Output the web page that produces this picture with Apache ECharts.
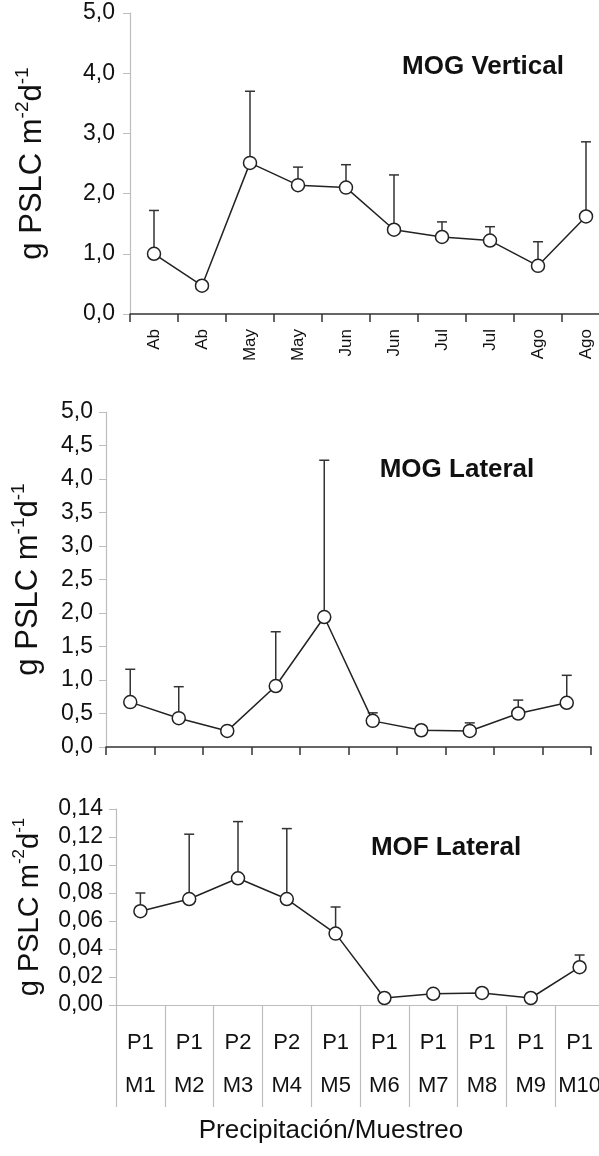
<!DOCTYPE html>
<html><head><meta charset="utf-8">
<script src="https://cdn.jsdelivr.net/npm/echarts@6/dist/echarts.min.js"></script>
<style>html,body{margin:0;padding:0;background:#fff}#c{width:599px;height:1156px}</style>
</head><body><div id="c"></div>
<script>
const FONT = 'Liberation Sans, Arial, sans-serif';
const monthCats = ['Ab','Ab','May','May','Jun','Jun','Jul','Jul','Ago','Ago'];
const precip = ['P1','P1','P2','P2','P1','P1','P1','P1','P1','P1'];
const muestreo = ['M1','M2','M3','M4','M5','M6','M7','M8','M9','M10'];
const mogV = [1.00,0.47,2.51,2.14,2.10,1.40,1.28,1.22,0.80,1.62];
const mogVTop = [1.72,null,3.70,2.44,2.48,2.31,1.53,1.45,1.20,2.86];
const mogL = [0.67,0.43,0.24,0.91,1.94,0.39,0.25,0.24,0.50,0.66];
const mogLTop = [1.16,0.90,0.28,1.72,4.28,0.51,null,0.36,0.70,1.07];
const mofL = [0.067,0.0757,0.0905,0.0757,0.051,0.005,0.008,0.0086,0.005,0.027];
const mofLTop = [0.080,0.122,0.131,0.126,0.070,null,null,null,null,0.0357];
const titles = ['MOG Vertical','MOG Lateral','MOF Lateral'];
const xTitle = 'Precipitación/Muestreo';

const chart = echarts.init(document.getElementById('c'));
const comma = d => v => v.toFixed(d).replace('.', ',');
const lightAxis = {show:true, lineStyle:{color:'#bdbdbd', width:1.2}};
const darkAxis = {show:true, lineStyle:{color:'#333', width:1.5}};
function yName(sup1, size){
  return {
    name: '{a|g PSLC m}{s|' + sup1 + '}{a|d}{s|-1}',
    nameLocation:'middle', nameRotate:90,
    nameTextStyle:{rich:{a:{fontSize:size, fontFamily:FONT, color:'#111', lineHeight:size+4, verticalAlign:'bottom'},
                         s:{fontSize:Math.round(size*0.6), fontFamily:FONT, color:'#111', verticalAlign:'top', lineHeight:size+4}}}
  };
}
function errData(vals, tops){
  const out = [];
  vals.forEach((v,i)=>{ if(tops[i]!=null) out.push([i, v, tops[i]]); });
  return out;
}
function errSeries(idx, vals, tops){
  return {
    type:'custom', xAxisIndex:idx, yAxisIndex:idx, z:1,
    data: errData(vals, tops), encode:{x:0, y:[1,2]},
    renderItem(params, api){
      const p0 = api.coord([api.value(0), api.value(1)]);
      const p1 = api.coord([api.value(0), api.value(2)]);
      const st = {stroke:'#333', lineWidth:1.5};
      return {type:'group', children:[
        {type:'line', shape:{x1:p0[0], y1:p0[1], x2:p1[0], y2:p1[1]}, style:st},
        {type:'line', shape:{x1:p1[0]-5, y1:p1[1], x2:p1[0]+5, y2:p1[1]}, style:st}
      ]};
    }
  };
}
function lineSeries(idx, vals){
  return {
    type:'line', xAxisIndex:idx, yAxisIndex:idx, z:3, data: vals,
    symbol:'circle', symbolSize:13,
    lineStyle:{color:'#222', width:1.5},
    itemStyle:{color:'#fff', borderColor:'#222', borderWidth:1.5}
  };
}
const tickLbl = {fontSize:23, fontFamily:FONT, color:'#111'};

chart.setOption({
  animation:false,
  backgroundColor:'#fff',
  grid:[
    {left:130, top:13, width:480, height:301, outerBoundsMode:'none'},
    {left:106, top:412, width:485, height:335, outerBoundsMode:'none'},
    {left:116, top:809, width:488, height:196, outerBoundsMode:'none'}
  ],
  xAxis:[
    {type:'category', gridIndex:0, data:monthCats, boundaryGap:true,
     axisLine:darkAxis, axisTick:{show:true, length:8, lineStyle:{color:'#333', width:1.5}},
     axisLabel:{rotate:90, fontSize:17, fontFamily:FONT, color:'#111', margin:15}, splitLine:{show:false}},
    {type:'category', gridIndex:1, data:muestreo, boundaryGap:true,
     axisLine:darkAxis, axisTick:{show:true, length:8, lineStyle:{color:'#333', width:1.5}},
     axisLabel:{show:false}, splitLine:{show:false}},
    {type:'category', gridIndex:2, data:muestreo.map((m,i)=>precip[i]+'\n'+m), boundaryGap:true,
     axisLine:lightAxis, axisTick:{show:true, length:102, lineStyle:{color:'#bdbdbd', width:1.2}},
     axisLabel:{fontSize:22, fontFamily:FONT, color:'#111', lineHeight:43, margin:16, interval:0}, splitLine:{show:false}}
  ],
  yAxis:[
    Object.assign({type:'value', gridIndex:0, min:0, max:5, interval:1,
     axisLine:lightAxis, axisTick:{show:true, length:7, lineStyle:{color:'#bdbdbd'}},
     axisLabel:Object.assign({formatter:comma(1), margin:15}, tickLbl), splitLine:{show:false}, nameGap:82}, yName('-2', 31)),
    Object.assign({type:'value', gridIndex:1, min:0, max:5, interval:0.5,
     axisLine:lightAxis, axisTick:{show:true, length:7, lineStyle:{color:'#bdbdbd'}},
     axisLabel:Object.assign({formatter:comma(1), margin:13}, tickLbl), splitLine:{show:false}, nameGap:62}, yName('-1', 31)),
    Object.assign({type:'value', gridIndex:2, min:0, max:0.14, interval:0.02,
     axisLine:lightAxis, axisTick:{show:true, length:7, lineStyle:{color:'#bdbdbd'}},
     axisLabel:Object.assign({formatter:comma(2), margin:13}, tickLbl), splitLine:{show:false}, nameGap:72}, yName('-2', 29))
  ],
  graphic:[
    {type:'text', x:483, y:67, style:{text:titles[0], font:'bold 26px '+FONT, fill:'#111', align:'center', verticalAlign:'middle'}},
    {type:'text', x:457, y:470, style:{text:titles[1], font:'bold 26px '+FONT, fill:'#111', align:'center', verticalAlign:'middle'}},
    {type:'text', x:446, y:848, style:{text:titles[2], font:'bold 26px '+FONT, fill:'#111', align:'center', verticalAlign:'middle'}},
    {type:'text', x:331, y:1131, style:{text:xTitle, font:'26px '+FONT, fill:'#111', align:'center', verticalAlign:'middle'}}
  ],
  series:[
    errSeries(0, mogV, mogVTop), lineSeries(0, mogV),
    errSeries(1, mogL, mogLTop), lineSeries(1, mogL),
    errSeries(2, mofL, mofLTop), lineSeries(2, mofL)
  ]
});
</script></body></html>
